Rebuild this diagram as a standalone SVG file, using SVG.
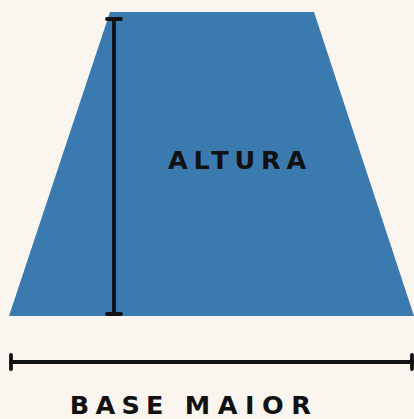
<svg xmlns="http://www.w3.org/2000/svg" width="414" height="419" viewBox="0 0 414 419">
<style>
.lbl{font-family:"DejaVu Sans","Liberation Sans",Arial,sans-serif;font-weight:bold;fill:#111;font-size:25.5px;}
.ln{stroke:#111;stroke-width:3.8;fill:none;stroke-linecap:round;}
</style>
<rect width="414" height="419" fill="#faf5ef"/>
<g id="trapezoid">
<polygon points="110,12 314,12 414,316 9,316" fill="#3b7aae"/>
</g>
<g id="connectors">
<line class="ln" x1="114" y1="19" x2="114" y2="314"/>
<line class="ln" x1="107" y1="19" x2="121" y2="19"/>
<line class="ln" x1="107" y1="314" x2="121" y2="314"/>
<line class="ln" x1="11" y1="362" x2="412" y2="362"/>
<line class="ln" x1="11" y1="355" x2="11" y2="369"/>
<line class="ln" x1="412" y1="355" x2="412" y2="369"/>
</g>
<g id="altura">
<text class="lbl" x="168" y="169" letter-spacing="5.8">ALTURA</text>
</g>
<g id="base-maior">
<text class="lbl" x="69.7" y="413.5" letter-spacing="6.3">BASE <tspan x="184.7" letter-spacing="7.6">MAIOR</tspan></text>
</g>
</svg>
